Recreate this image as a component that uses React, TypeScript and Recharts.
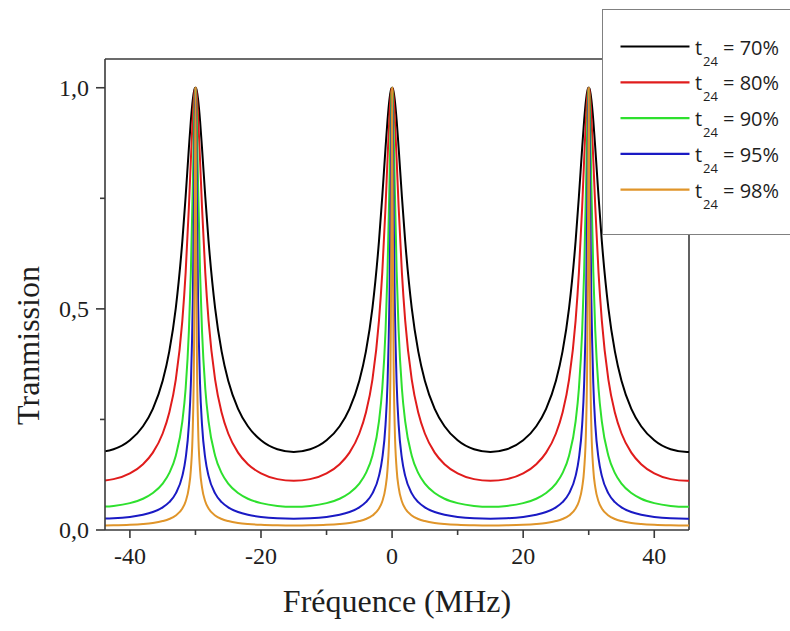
import React from 'react';
import { LineChart, Line, XAxis, YAxis, Legend, ReferenceLine } from 'recharts';

// Resonance positions (free spectral range 30 MHz); outer ones fall outside the visible window
const PEAK_CENTERS_MHZ = [-60, -30, 0, 30, 60];
// Frequency offset from a resonance (MHz) at which each curve was read
const OFFSETS_MHZ = [0, 0.1, 0.2, 0.4, 0.7, 1, 1.5, 2, 3, 4, 5, 6.5, 8, 10, 12.5, 15];
// Transmission, per curve, at those offsets
const T24_70 = [1, 0.9983, 0.9933, 0.9738, 0.9257, 0.8639, 0.7535, 0.6531, 0.5018, 0.4033, 0.3375, 0.274, 0.2345, 0.2027, 0.1825, 0.1765];
const T24_80 = [1, 0.9956, 0.9829, 0.9365, 0.8365, 0.7305, 0.5815, 0.4736, 0.3402, 0.2651, 0.2182, 0.1749, 0.1488, 0.128, 0.115, 0.1111];
const T24_90 = [1, 0.9808, 0.9293, 0.783, 0.5841, 0.4502, 0.3193, 0.2457, 0.1681, 0.1285, 0.1048, 0.0835, 0.0707, 0.0607, 0.0545, 0.0526];
const T24_95 = [1, 0.9258, 0.7746, 0.5223, 0.3305, 0.2383, 0.1618, 0.1224, 0.0827, 0.0629, 0.0512, 0.0407, 0.0345, 0.0296, 0.0265, 0.0256];
const T24_98 = [1, 0.6943, 0.4344, 0.2345, 0.1366, 0.0962, 0.0644, 0.0485, 0.0327, 0.0248, 0.0202, 0.016, 0.0136, 0.0117, 0.0105, 0.0101];

const T24_PERCENT = [70, 80, 90, 95, 98];
const SERIES_VALUES = [T24_70, T24_80, T24_90, T24_95, T24_98];
const SERIES_COLORS = ['#000000', '#e01c1c', '#2ee02e', '#1a1ac4', '#e0952a'];

const X_DOMAIN = [-43.8, 45.3];
const Y_DOMAIN = [0, 1.065];
const X_TICKS = [-40, -30, -20, -10, 0, 10, 20, 30, 40];
const X_MAJOR = [-40, -20, 0, 20, 40];
const Y_TICKS = [0, 0.25, 0.5, 0.75, 1];
const Y_MAJOR = [0, 0.5, 1];

const X_TITLE = 'Fréquence (MHz)';
const Y_TITLE = 'Tranmission';

const keyOf = (i: number) => 's' + i;

const rows: any[] = [];
const makeRow = (f: number, k: number) => {
  const r: any = { f };
  SERIES_VALUES.forEach((vals, i) => {
    r[keyOf(i)] = vals[k];
  });
  return r;
};
PEAK_CENTERS_MHZ.forEach((c, ci) => {
  const last = OFFSETS_MHZ.length - 1;
  for (let k = last; k >= 1; k--) {
    if (ci > 0 && k === last) continue;
    rows.push(makeRow(c - OFFSETS_MHZ[k], k));
  }
  for (let k = 0; k <= last; k++) rows.push(makeRow(c + OFFSETS_MHZ[k], k));
});

const AXIS_COLOR = '#3a3a3a';
const SERIF = '"Liberation Serif", "Times New Roman", serif';
const SANS = '"Open Sans", "Liberation Sans", sans-serif';

const XTick = (props: any) => {
  const { x, y, payload } = props;
  const major = X_MAJOR.includes(payload.value);
  return (
    <g>
      <line x1={x} x2={x} y1={y} y2={y + (major ? 8 : 5)} stroke={AXIS_COLOR} strokeWidth={1.6} />
      {major && (
        <text x={x} y={y + 34} textAnchor="middle" fontFamily={SERIF} fontSize={24} fill="#1e1e1e">
          {String(payload.value)}
        </text>
      )}
    </g>
  );
};

const YTick = (props: any) => {
  const { x, y, payload } = props;
  const major = Y_MAJOR.includes(payload.value);
  return (
    <g>
      <line x1={x - (major ? 9 : 5)} x2={x} y1={y} y2={y} stroke={AXIS_COLOR} strokeWidth={1.6} />
      {major && (
        <text x={x - 16} y={y + 8} textAnchor="end" fontFamily={SERIF} fontSize={24} fill="#1e1e1e">
          {Number(payload.value).toFixed(1).replace('.', ',')}
        </text>
      )}
    </g>
  );
};

const XTitle = (props: any) => {
  const vb = props.viewBox || { x: 105, y: 530, width: 584, height: 60 };
  return (
    <text x={vb.x + vb.width / 2} y={vb.y + 82} textAnchor="middle" fontFamily={SERIF} fontSize={32} fill="#1e1e1e">
      {X_TITLE}
    </text>
  );
};

const YTitle = (props: any) => {
  const vb = props.viewBox || { x: 45, y: 59, width: 60, height: 471 };
  const cx = vb.x - 17;
  const cy = vb.y + vb.height / 2 + 51;
  return (
    <text
      x={cx}
      y={cy}
      transform={`rotate(-90, ${cx}, ${cy})`}
      textAnchor="middle"
      dominantBaseline="central"
      fontFamily={SERIF}
      fontSize={32}
      fill="#1e1e1e"
    >
      {Y_TITLE}
    </text>
  );
};

const LegendBox = (props: any) => {
  const payload = props.payload || [];
  return (
    <div
      style={{
        width: 188,
        height: 226,
        boxSizing: 'border-box',
        border: '1.5px solid #808080',
        borderRight: 'none',
        background: '#ffffff',
      }}
    >
      <svg width={186} height={223} style={{ display: 'block' }}>
        {payload.map((entry: any, i: number) => {
          const yc = 36.5 + i * 35.8;
          const pct = String(entry.value).split('= ')[1];
          return (
            <g key={i}>
              <line x1={17.5} x2={86.5} y1={yc} y2={yc} stroke={entry.color} strokeWidth={2.2} />
              <text x={92} y={yc + 8} fontFamily={SANS} fontSize={20} fill="#1e1e1e">t</text>
              <text x={100} y={yc + 19} fontFamily={SANS} fontSize={13} fill="#1e1e1e">24</text>
              <text x={120} y={yc + 8} fontFamily={SANS} fontSize={20} fill="#1e1e1e">{'= ' + pct}</text>
            </g>
          );
        })}
      </svg>
    </div>
  );
};

export default function App() {
  return (
    <div style={{ position: 'absolute', left: 0, top: 0, width: 790, height: 631, background: '#fff' }}>
      <LineChart width={790} height={631} data={rows} margin={{ top: 59, right: 101, bottom: 41, left: 45 }}>
        <XAxis
          dataKey="f"
          type="number"
          domain={X_DOMAIN}
          allowDataOverflow
          ticks={X_TICKS}
          interval={0}
          height={60}
          tickSize={0}
          tickMargin={0}
          tickLine={false}
          tick={<XTick />}
          axisLine={{ stroke: AXIS_COLOR, strokeWidth: 1.6 }}
          label={<XTitle />}
        />
        <YAxis
          type="number"
          domain={Y_DOMAIN}
          allowDataOverflow
          ticks={Y_TICKS}
          interval={0}
          width={60}
          tickSize={0}
          tickMargin={0}
          tickLine={false}
          tick={<YTick />}
          axisLine={{ stroke: AXIS_COLOR, strokeWidth: 1.6 }}
          label={<YTitle />}
        />
        <ReferenceLine y={Y_DOMAIN[1]} stroke={AXIS_COLOR} strokeWidth={1.6} />
        <ReferenceLine x={X_DOMAIN[1]} stroke={AXIS_COLOR} strokeWidth={1.6} />
        {SERIES_VALUES.map((_, i) => (
          <Line
            key={i}
            type="monotone"
            dataKey={keyOf(i)}
            name={`t24 = ${T24_PERCENT[i]}%`}
            stroke={SERIES_COLORS[i]}
            strokeWidth={2}
            dot={false}
            activeDot={false}
            isAnimationActive={false}
          />
        ))}
        <Legend
          layout="vertical"
          align="center"
          verticalAlign="middle"
          wrapperStyle={{ left: 602, top: 9, width: 188, height: 226 }}
          content={<LegendBox />}
        />
      </LineChart>
    </div>
  );
}
